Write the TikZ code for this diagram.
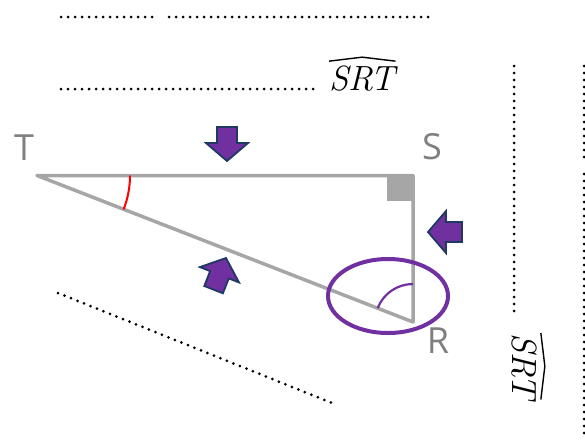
\documentclass[tikz,border=0pt]{standalone}
\usepackage{fontspec}
\usetikzlibrary{calc}
\newfontfamily\labfont{Open Sans}
\definecolor{trigray}{HTML}{A6A6A6}
\definecolor{labgray}{HTML}{7F7F7F}
\definecolor{mypurple}{HTML}{7030A0}
\definecolor{myborder}{HTML}{1F3864}
\tikzset{
  side/.style={draw=trigray, line width=3.5pt},
  vlabel/.style={text=labgray, font=\labfont\fontsize{36}{40}\selectfont, anchor=base, inner sep=0pt},
  dotline/.style={line width=3pt, dash pattern=on 0pt off 7pt, line cap=round},
  mathtxt/.style={font=\itshape\fontsize{35}{40}\selectfont, inner xsep=0pt, inner ysep=4pt},
  hat/.style={line width=1.4pt, line join=miter},
  fatarrow/.pic={\draw[fill=mypurple, draw=myborder, line width=1.8pt, line join=miter]
     (0,0) -- (-18,21) -- (-18,10) -- (-34,10) -- (-34,-10) -- (-18,-10) -- (-18,-21) -- cycle;}
}
\begin{document}
\begin{tikzpicture}[x=1pt, y=-1pt]
\useasboundingbox (0,0) rectangle (585,439);
% vertices
\coordinate (T) at (37,175.5);
\coordinate (S) at (413,175.5);
\coordinate (R) at (413,322);
% right-angle square
\fill[trigray] (387,175.5) rectangle (413,201);
% triangle
\draw[side, line join=round] (T) -- (S) -- (R) -- cycle;
% angle marks
\draw[red, line width=2pt] (T) ++(0:93pt) arc[start angle=0, end angle=-21.4, radius=93pt];
\draw[mypurple, line width=2.2pt] (R) ++(90:38pt) arc[start angle=90, end angle=158.6, radius=38pt];
% ellipse around angle R
\draw[mypurple, line width=4pt] (388,296) ellipse [x radius=60pt, y radius=37pt];
% labels
\node[vlabel] (lT) at (24,160) {T};
\node[vlabel] (lS) at (432,159) {S};
\node[vlabel] (lR) at (438,353) {R};
% arrows
\pic[rotate=-90] at (227,161) {fatarrow};
\pic[rotate=180] at (428,232) {fatarrow};
\pic[rotate=68.6] at (226,258) {fatarrow};
% dotted answer lines
\coordinate (a1) at (61,17);   \coordinate (a2) at (157,17);
\coordinate (b1) at (169,17);  \coordinate (b2) at (435,17);
\coordinate (c1) at (61,89);   \coordinate (c2) at (316,89);
\coordinate (d1) at (58,293);  \coordinate (d2) at (332,403);
\coordinate (e1) at (514,66);  \coordinate (e2) at (514,317);
\coordinate (f1) at (584,66);  \coordinate (f2) at (584,160);
\coordinate (g1) at (584,174); \coordinate (g2) at (584,439);
\draw[dotline] (a1) -- (a2);
\draw[dotline] (b1) -- (b2);
\draw[dotline] (c1) -- (c2);
\draw[dotline] (d1) -- (d2);
\draw[dotline] (e1) -- (e2);
\draw[dotline] (f1) -- (f2);
\draw[dotline] (g1) -- (g2);
% angle names
\node[mathtxt, anchor=base west] (m1) at (329,90) {SRT};
\draw[hat] (m1.north west) -- ($(m1.north)!-4pt!(m1.center)$) -- (m1.north east);
\node[mathtxt, anchor=base west, rotate=-90] (m2) at (512,333) {SRT};
\draw[hat] (m2.north west) -- ($(m2.north)!-4pt!(m2.center)$) -- (m2.north east);
\end{tikzpicture}
\end{document}
